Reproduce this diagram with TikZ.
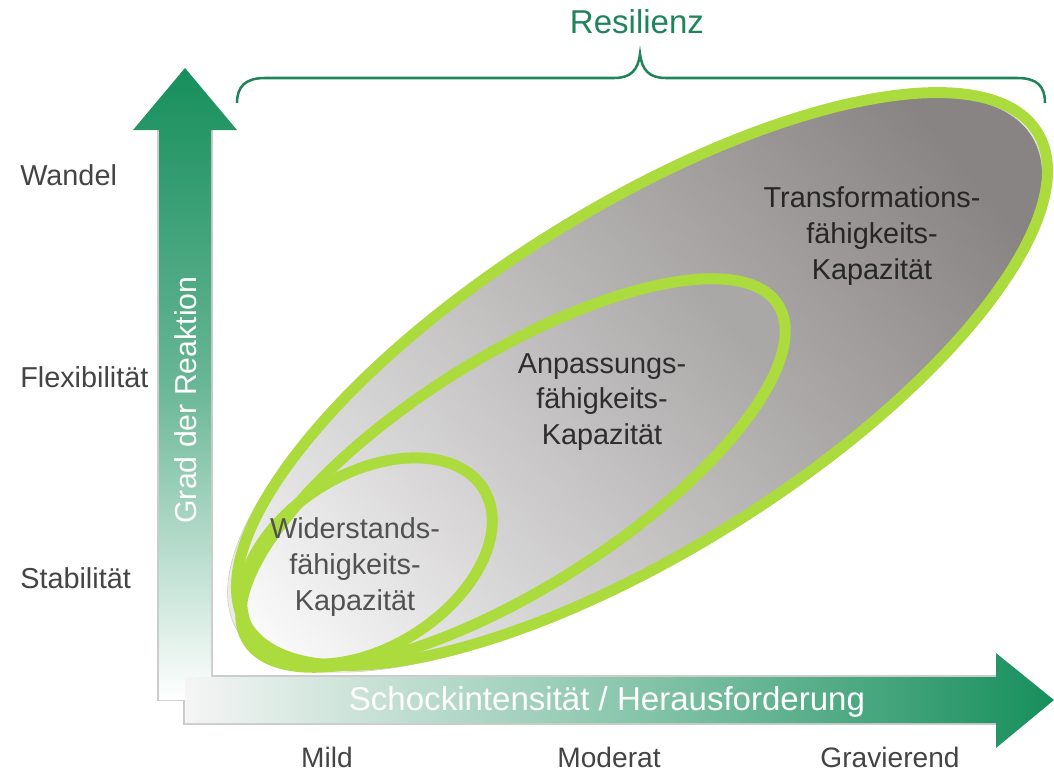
\documentclass[tikz,border=0pt]{standalone}
\usepackage{fontspec}
\setmainfont{Liberation Sans}
\definecolor{arrowgreen}{RGB}{23,143,92}
\definecolor{ringgreen}{RGB}{172,219,62}
\definecolor{bracegreen}{RGB}{31,132,90}
\definecolor{labelgray}{RGB}{68,68,68}
\definecolor{outerfill}{RGB}{136,132,131}
\definecolor{middlefill}{RGB}{170,167,167}
\definecolor{innerfill}{RGB}{212,210,210}
\begin{document}
\begin{tikzpicture}[x=0.025cm, y=-0.025cm]
    \tikzstyle{level}=[labelgray, anchor=west, inner sep=0, font=\fontsize{20.5}{24}\selectfont]
    \tikzstyle{severity}=[labelgray, font=\fontsize{20}{24}\selectfont]
    \tikzstyle{capacity}=[align=center, font=\fontsize{20.5}{25.5}\selectfont]
    \tikzstyle{ring}=[draw=ringgreen, line width=7.8pt]
    \tikzstyle{frame}=[draw=black!20, line width=0.8pt]
    \useasboundingbox (0,0) rectangle (1054,771);
    % axes
    \draw [frame] (158,130) -- (158,700) -- (184,700) -- (184,724) -- (996,724);
    \draw [frame] (212,130) -- (212,676) -- (996,676);
    \shade [top color=arrowgreen, bottom color=white, middle color=arrowgreen!65] (159,700) -- (159,130) -- (133,130) -- (185,68) -- (237,130) -- (211,130) -- (211,700) -- cycle;
    \shade [left color=black!4, right color=arrowgreen, middle color=arrowgreen!50] (185,677) -- (996,677) -- (996,653) -- (1054,700) -- (996,748) -- (996,723) -- (185,723) -- cycle;
    \node [white, rotate=90, font=\fontsize{21.5}{24}\selectfont] (reaction) at (186,400) {Grad der Reaktion};
    \node [white, font=\fontsize{23.5}{28}\selectfont] (shock) at (607,702) {Schockintensität / Herausforderung};
    \node [level] (wandel) at (20,175) {Wandel};
    \node [level] (flex) at (20,377) {Flexibilität};
    \node [level] (stab) at (20,578) {Stabilität};
    \node [severity] (mild) at (327,757) {Mild};
    \node [severity] (moderat) at (609,757) {Moderat};
    \node [severity] (gravierend) at (890,757) {Gravierend};
    % brace
    \draw [bracegreen, line width=1.8pt] (237,103) .. controls (237,86) and (246,78) .. (265,78) -- (614,78) .. controls (631,78) and (638,70) .. (640,54) .. controls (642,70) and (649,78) .. (666,78) -- (1017,78) .. controls (1037,78) and (1045,86) .. (1045,103);
    \node [bracegreen, font=\fontsize{23.5}{28}\selectfont] (resilience) at (637,22) {Resilienz};
    % capacities
    \begin{scope}[shift={(635,384)}, rotate=32]
        \shade [top color=outerfill, bottom color=black!8, shading angle=-50, draw=black!20, thin] (0,0) ellipse [x radius=468, y radius=173];
    \end{scope}
    \begin{scope}[shift={(513,473)}, rotate=32.4]
        \shade [top color=middlefill, bottom color=black!6, shading angle=-50] (0,0) ellipse [x radius=314, y radius=115];
    \end{scope}
    \begin{scope}[shift={(367,561)}, rotate=31.6]
        \shade [top color=innerfill, bottom color=black!2, shading angle=-50] (0,0) ellipse [x radius=137, y radius=87];
    \end{scope}
    \draw [ring, rotate around={32:(642,379)}] (642,379) ellipse [x radius=466, y radius=171];
    \draw [ring, rotate around={32.4:(513,473)}] (513,473) ellipse [x radius=314, y radius=115];
    \draw [ring, rotate around={31.6:(367,561)}] (367,561) ellipse [x radius=137, y radius=87];
    \node [capacity, text=black!85] (transformation) at (872,236) {Transformations-\\fähigkeits-\\Kapazität};
    \node [capacity, text=black!82] (adaptation) at (602,402) {Anpassungs-\\fähigkeits-\\Kapazität};
    \node [capacity, text=black!68] (resistance) at (355,567) {Widerstands-\\fähigkeits-\\Kapazität};
\end{tikzpicture}
\end{document}
